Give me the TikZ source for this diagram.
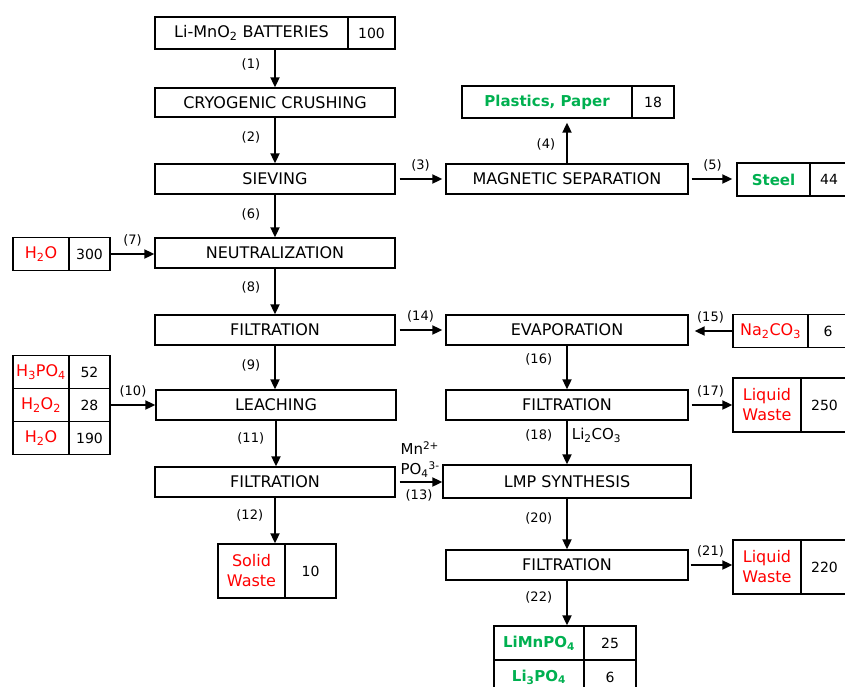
\documentclass[tikz,border=0pt]{standalone}
\usepackage{fontspec}
\setmainfont{DejaVu Sans}
\usetikzlibrary{arrows.meta,positioning}
\definecolor{prodgreen}{RGB}{0,176,80}
\definecolor{inred}{RGB}{255,0,0}

\begin{document}
\begin{tikzpicture}[x=1pt, y=-1pt, font=\fontsize{16}{20}\selectfont,
  box/.style={draw, line width=1.3pt, minimum width=240pt, minimum height=30pt, inner sep=2pt},
  cell/.style={draw, line width=1.3pt, minimum height=33pt, inner sep=1pt, align=center},
  val/.style={cell, font=\fontsize{14}{18}\selectfont},
  grn/.style={text=prodgreen, font=\fontsize{15}{18}\selectfont\bfseries},
  rd/.style={text=inred},
  arr/.style={line width=1.8pt, -{Triangle[length=10pt, width=9pt]}},
  num/.style={font=\fontsize{13}{15}\selectfont, inner sep=1pt}]
\useasboundingbox (0,0) rectangle (845,686);
\node[cell, minimum width=193pt, minimum height=32pt] (bat) at (251.5,33) {Li-MnO\textsubscript{2} BATTERIES};
\node[val, minimum width=47pt, minimum height=32pt] (batv) at (371.5,33) {100};
\node[box, minimum height=29pt] (crush) at (275,102.5) {CRYOGENIC CRUSHING};
\node[box] (sieve) at (275,179) {SIEVING};
\node[box, minimum width=242pt] (mag) at (567,179) {MAGNETIC SEPARATION};
\node[cell, grn, minimum width=170pt, minimum height=32pt] (plast) at (547,102) {Plastics, Paper};
\node[val, minimum width=42pt, minimum height=32pt] (plastv) at (653,102) {18};
\node[cell, grn, minimum width=73pt] (steel) at (773.5,179.5) {Steel};
\node[val, minimum width=38pt] (steelv) at (829,179.5) {44};
\node[cell, rd, minimum width=56pt] (wat) at (41,254) {H\textsubscript{2}O};
\node[val, minimum width=41pt] (watv) at (89.5,254) {300};
\node[box] (neut) at (275,253) {NEUTRALIZATION};
\node[box] (filta) at (275,330) {FILTRATION};
\node[box, minimum width=242pt] (evap) at (567,330) {EVAPORATION};
\node[cell, rd, minimum width=75pt] (soda) at (770.5,331) {Na\textsubscript{2}CO\textsubscript{3}};
\node[val, minimum width=40pt] (sodav) at (828,331) {6};
\node[cell, rd, minimum width=56pt] (acid) at (41,372) {H\textsubscript{3}PO\textsubscript{4}};
\node[val, minimum width=41pt] (acidv) at (89.5,372) {52};
\node[cell, rd, minimum width=56pt] (perox) at (41,405) {H\textsubscript{2}O\textsubscript{2}};
\node[val, minimum width=41pt] (peroxv) at (89.5,405) {28};
\node[cell, rd, minimum width=56pt] (watb) at (41,438) {H\textsubscript{2}O};
\node[val, minimum width=41pt] (watbv) at (89.5,438) {190};
\node[box] (leach) at (276,405) {LEACHING};
\node[box] (filtb) at (275,482) {FILTRATION};
\node[cell, rd, minimum width=67pt, minimum height=54pt] (solid) at (251.5,571) {Solid\\Waste};
\node[val, minimum width=51pt, minimum height=54pt] (solidv) at (310.5,571) {10};
\node[box, minimum width=242pt] (filtc) at (567,405) {FILTRATION};
\node[cell, rd, minimum width=68pt, minimum height=54pt] (liqa) at (767,405) {Liquid\\Waste};
\node[val, minimum width=47pt, minimum height=54pt] (liqav) at (824.5,405) {250};
\node[box, minimum width=248pt, minimum height=33pt] (lmp) at (567,481.5) {LMP SYNTHESIS};
\node[box, minimum width=242pt] (filtd) at (567,565) {FILTRATION};
\node[cell, rd, minimum width=68pt, minimum height=54pt] (liqb) at (767,567) {Liquid\\Waste};
\node[val, minimum width=47pt, minimum height=54pt] (liqbv) at (824.5,567) {220};
\node[cell, grn, minimum width=90pt, minimum height=34pt] (lmpo) at (539,643) {LiMnPO\textsubscript{4}};
\node[val, minimum width=52pt, minimum height=34pt] (lmpov) at (610,643) {25};
\node[cell, grn, minimum width=90pt, minimum height=34pt] (lipo) at (539,677) {Li\textsubscript{3}PO\textsubscript{4}};
\node[val, minimum width=52pt, minimum height=34pt] (lipov) at (610,677) {6};
\draw[arr] (crush.north |- bat.south) -- node[num, pos=0.4, left=13pt]{(1)} (crush.north);
\draw[arr] (crush.south) -- node[num, pos=0.43, left=13pt]{(2)} (sieve.north);
\draw[arr, shorten <=4pt, shorten >=3pt] (sieve.east) -- node[num, above=6pt]{(3)} (mag.west);
\draw[arr, shorten >=4pt] (mag.north) -- node[num, pos=0.43, left=10pt]{(4)} (mag.north |- plast.south);
\draw[arr, shorten <=3pt, shorten >=4pt] (mag.east) -- node[num, above=6pt]{(5)} (mag.east -| steel.west);
\draw[arr] (sieve.south) -- node[num, pos=0.47, left=13pt]{(6)} (neut.north);
\draw[arr] (watv.east) -- node[num, above=6pt]{(7)} (watv.east -| neut.west);
\draw[arr] (neut.south) -- node[num, pos=0.42, left=13pt]{(8)} (filta.north);
\draw[arr] (filta.south) -- node[num, pos=0.45, left=13pt]{(9)} (filta.south |- leach.north);
\draw[arr] (peroxv.east) -- node[num, above=6pt]{(10)} (peroxv.east -| leach.west);
\draw[arr] (leach.south) -- node[num, pos=0.38, left=10pt]{(11)} (leach.south |- filtb.north);
\draw[arr] (filtb.south) -- node[num, pos=0.38, left=10pt]{(12)} (filtb.south |- solid.north);
\draw[arr, shorten <=4pt] (filtb.east) -- node[num, below=6pt]{(13)}
  node[pos=0, above right=4pt and 4pt, inner sep=0pt, align=left, font=\fontsize{15}{20}\selectfont]{Mn\textsuperscript{2+}\\PO\textsubscript{4}\textsuperscript{3-}} (filtb.east -| lmp.west);
\draw[arr, shorten <=4pt, shorten >=3pt] (filta.east) -- node[num, above=6pt]{(14)} (evap.west);
\draw[arr, shorten >=6pt] (soda.west) -- node[num, above=6pt]{(15)} (soda.west -| evap.east);
\draw[arr] (evap.south) -- node[num, pos=0.32, left=13pt]{(16)} (filtc.north);
\draw[arr, shorten <=3pt] (filtc.east) -- node[num, above=6pt]{(17)} (liqa.west);
\draw[arr] (filtc.south) -- node[num, pos=0.33, left=13pt]{(18)}
  node[pos=0.33, right=3pt, inner sep=1pt, font=\fontsize{15}{18}\selectfont]{Li\textsubscript{2}CO\textsubscript{3}} (lmp.north);
\draw[arr] (lmp.south) -- node[num, pos=0.39, left=13pt]{(20)} (filtd.north);
\draw[arr, shorten <=2pt] (filtd.east) -- node[num, above=6pt]{(21)} (filtd.east -| liqb.west);
\draw[arr] (filtd.south) -- node[num, pos=0.38, left=13pt]{(22)} (filtd.south |- lmpo.north);
\end{tikzpicture}
\end{document}
